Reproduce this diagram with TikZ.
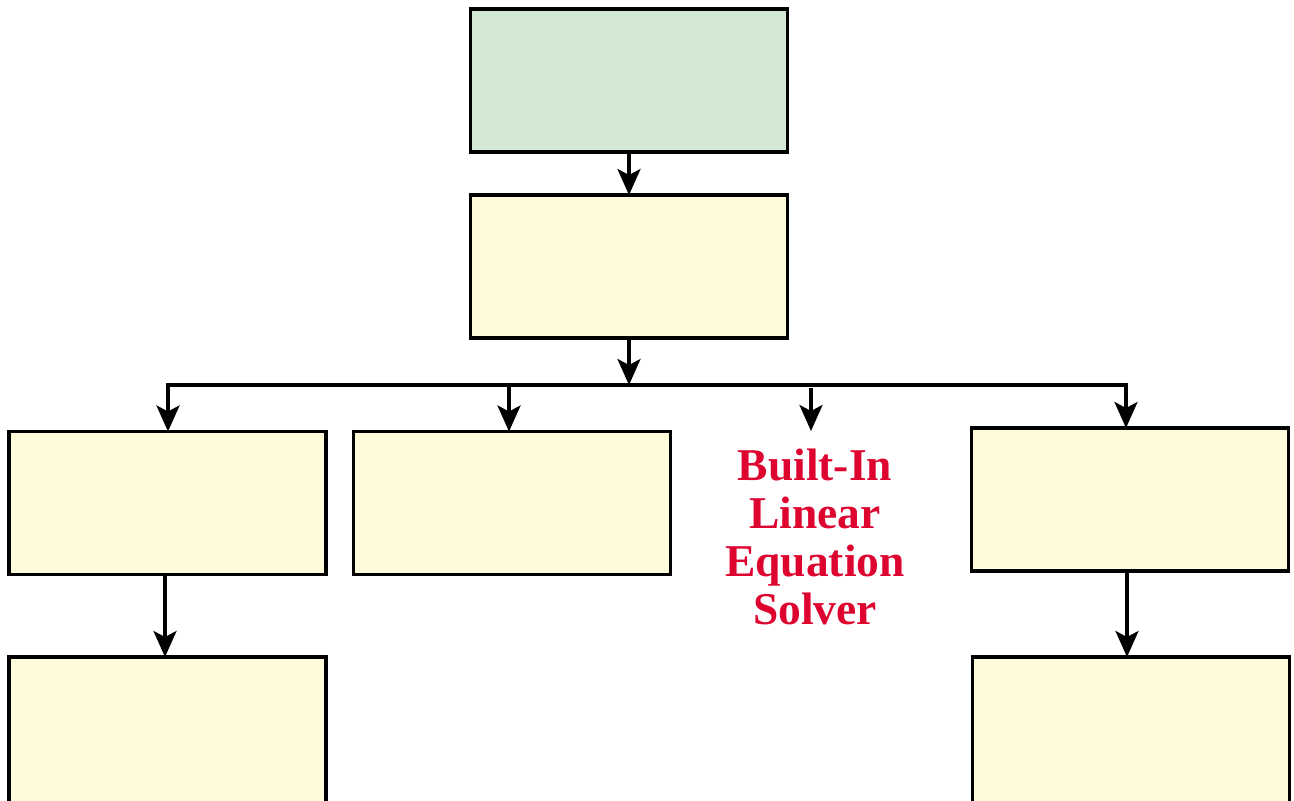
\documentclass[tikz,border=0pt]{standalone}
\usepackage{fontspec}
\setmainfont{Liberation Serif}
\usetikzlibrary{arrows.meta}
\definecolor{topfill}{HTML}{D3E8D5}
\definecolor{boxfill}{HTML}{FEFBD8}
\definecolor{labelred}{HTML}{DD0530}
\begin{document}
\begin{tikzpicture}[x=1pt,y=-1pt,
  box/.style={draw=black, line width=3.3pt, fill=boxfill, rectangle,
    minimum width=317pt, minimum height=143pt, inner sep=0pt, outer sep=0pt},
  tallbox/.style={box, minimum height=150pt},
  conn/.style={line width=3.3pt, line join=miter,
    -{Stealth[length=26pt,width=23pt,inset=6pt]}},
  label/.style={text=labelred, font=\bfseries\fontsize{45.5}{48}\selectfont,
    align=center, inner sep=0pt}]
\useasboundingbox (0,0) rectangle (1294,801);
\begin{scope}
\clip (0,0) rectangle (1294,801);
% main chain
\node[box, fill=topfill] (top) at (629,80.5) {};
\node[box] (mid) at (629,266.5) {};
% third row
\node[box] (r1) at (167.5,503) {};
\node[box] (r2) at (512,503) {};
\node[label, anchor=north] (solver) at (815,449) {Built-In\\Linear\\Equation\\Solver};
\node[box] (r4) at (1130,499.5) {};
% bottom row (runs off the lower edge)
\node[tallbox] (b1) at (167.5,732) {};
\node[tallbox] (b4) at (1131,732) {};
% distribution bus
\coordinate (hub) at (629,385);
\coordinate (busL) at (168,385);
\coordinate (busR) at (1126,385);
\coordinate (solverin) at (811,431);
\draw[conn] (top.south) -- (mid.north);
\draw[conn] (mid.south) -- (hub);
\draw[conn] (hub) -- (busL) -- (busL |- r1.north);
\draw[conn] (hub) -- (busR) -- (busR |- r4.north);
\draw[conn] (hub -| 509,0) -- (509,0 |- r2.north);
\draw[conn] (solverin |- hub) ++(0,3) -- (solverin);
% lower links
\draw[conn] (r1.south -| 165,0) -- (b1.north -| 165,0);
\draw[conn] (r4.south -| 1127,0) -- (b4.north -| 1127,0);
\end{scope}
\end{tikzpicture}
\end{document}
